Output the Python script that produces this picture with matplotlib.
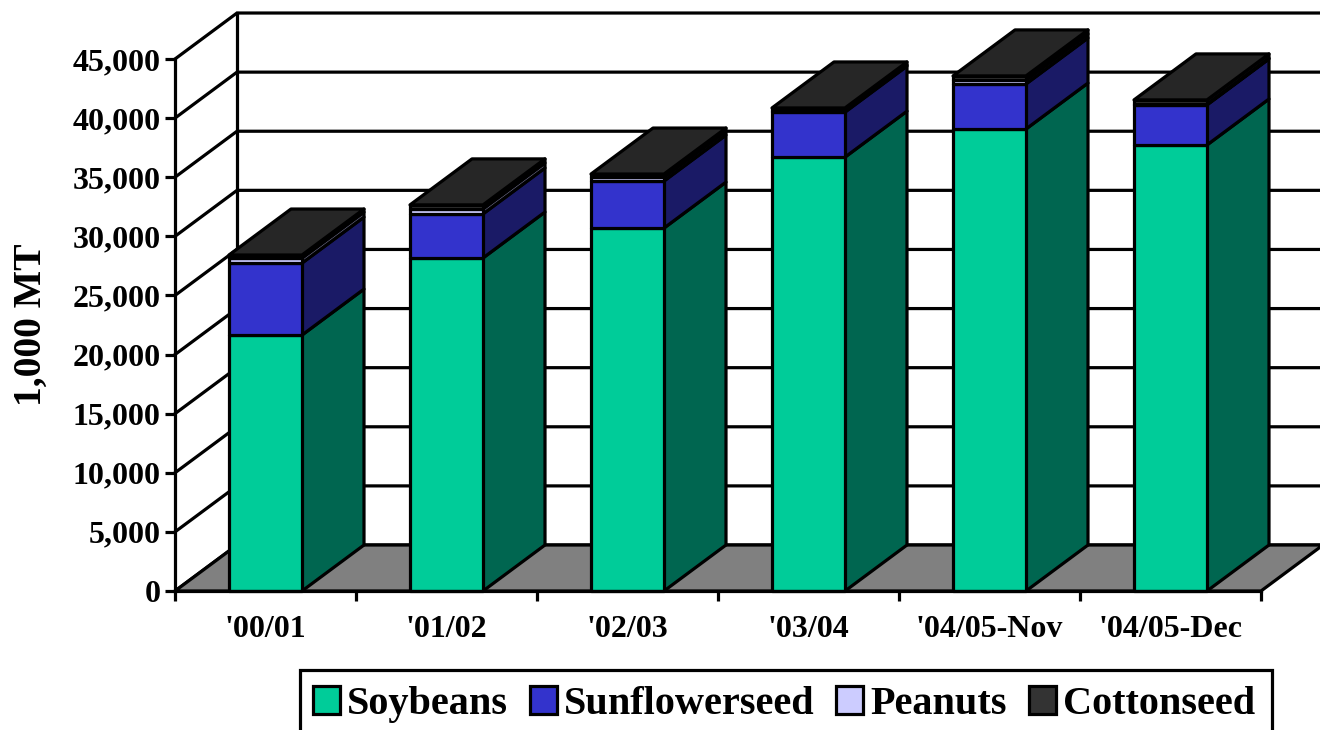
import matplotlib
matplotlib.use("Agg")
import matplotlib.pyplot as plt
from matplotlib.patches import Patch, Polygon, Rectangle

categories = ["'00/01", "'01/02", "'02/03", "'03/04", "'04/05-Nov", "'04/05-Dec"]
soybeans = [21650, 28170, 30700, 36700, 39080, 37730]
sunflowerseed = [6090, 3730, 3980, 3810, 3810, 3390]
peanuts = [420, 420, 340, 100, 340, 60]
cottonseed = [260, 340, 250, 250, 340, 360]
y_ticks = [0, 5000, 10000, 15000, 20000, 25000, 30000, 35000, 40000, 45000]

series_names = ["Soybeans", "Sunflowerseed", "Peanuts", "Cottonseed"]
series_values = [soybeans, sunflowerseed, peanuts, cottonseed]
front_colors = ["#00CC99", "#3333CC", "#CCCCFF", "#333333"]
side_colors = ["#006650", "#1A1A66", "#666680", "#1A1A1A"]
top_color = "#262626"
floor_color = "#808080"

# fake 3d depth, in axis units
DEPTH_X = 62 / 181
DEPTH_Y = 3890
BAR_LEFT = 54 / 181
BAR_WIDTH = 73 / 181
LW = 2.3

plt.rcParams["font.family"] = ["Liberation Serif", "DejaVu Serif"]
plt.rcParams["font.weight"] = "bold"

fig = plt.figure(figsize=(13.2, 7.3), dpi=100)
ax = fig.add_axes([175 / 1320, (730 - 591) / 730, 1086 / 1320, 532 / 730])
ax.set_xlim(0, len(categories))
ax.set_ylim(0, 45000)


def poly(points, color, z):
    ax.add_patch(Polygon(points, closed=True, facecolor=color, edgecolor="black",
                         linewidth=LW, joinstyle="round", clip_on=False, zorder=z))


# back wall and side wall lines
n = len(categories)
for v in y_ticks:
    ax.plot([0, DEPTH_X, n + DEPTH_X], [v, v + DEPTH_Y, v + DEPTH_Y], color="black",
            linewidth=LW, clip_on=False, zorder=1, solid_joinstyle="miter")
ax.plot([DEPTH_X, DEPTH_X], [DEPTH_Y, 45000 + DEPTH_Y], color="black",
        linewidth=LW, clip_on=False, zorder=1)

# floor
poly([(0, 0), (n, 0), (n + DEPTH_X, DEPTH_Y), (DEPTH_X, DEPTH_Y)], floor_color, 2)

# bars
z = 3
for i in range(n):
    x0 = i + BAR_LEFT
    x1 = x0 + BAR_WIDTH
    base = 0
    for values, front, side in zip(series_values, front_colors, side_colors):
        top = base + values[i]
        poly([(x1, base), (x1 + DEPTH_X, base + DEPTH_Y),
              (x1 + DEPTH_X, top + DEPTH_Y), (x1, top)], side, z)
        poly([(x0, base), (x1, base), (x1, top), (x0, top)], front, z)
        base = top
    poly([(x0, base), (x1, base), (x1 + DEPTH_X, base + DEPTH_Y),
          (x0 + DEPTH_X, base + DEPTH_Y)], top_color, z)
    z += 1

# axes
for side in ["top", "right"]:
    ax.spines[side].set_visible(False)
for side in ["left", "bottom"]:
    ax.spines[side].set_linewidth(LW)
    ax.spines[side].set_zorder(20)
ax.set_yticks(y_ticks)
ax.set_yticklabels([f"{v:,}" for v in y_ticks], fontsize=23, fontweight="bold")
ax.tick_params(axis="y", length=7.5, width=LW, pad=3)
ax.set_xticks(range(n + 1))
ax.set_xticklabels([])
ax.tick_params(axis="x", which="major", length=7.5, width=LW)
ax.set_xticks([i + 0.5 for i in range(n)], minor=True)
ax.set_xticklabels(categories, minor=True, fontsize=23, fontweight="bold")
ax.tick_params(axis="x", which="minor", length=0, pad=17)
ax.set_ylabel("1,000 MT", fontsize=28.5, fontweight="bold", labelpad=16)

# legend box runs off the bottom of the picture
fig.add_artist(Rectangle((300 / 1320, -20 / 730), 972 / 1320, 80 / 730,
                         transform=fig.transFigure, facecolor="white",
                         edgecolor="black", linewidth=LW))
handles = [Patch(facecolor=c, edgecolor="black", linewidth=LW, label=name)
           for c, name in zip(front_colors, series_names)]
fig.legend(handles=handles, loc="upper left",
           bbox_to_anchor=(300 / 1320, (730 - 673) / 730), ncol=4,
           prop={"family": "Liberation Serif", "weight": "bold", "size": 29},
           frameon=False, borderaxespad=0, borderpad=0.32, handlelength=0.67,
           handletextpad=0.17, columnspacing=0.55)

fig.savefig("out.png", dpi=100)
